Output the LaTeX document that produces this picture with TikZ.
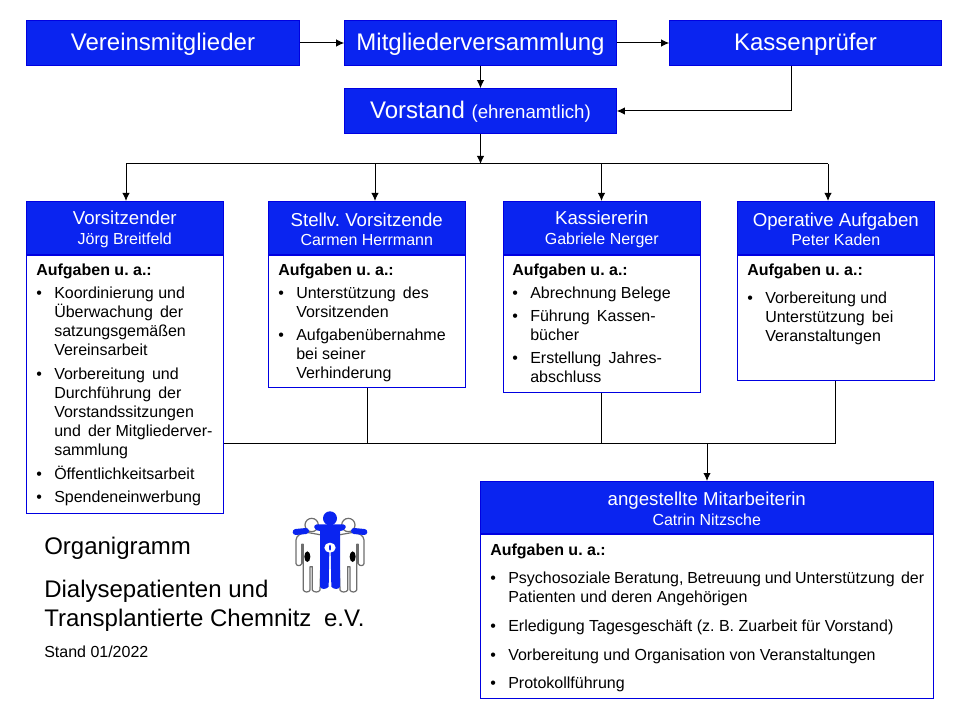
\documentclass[tikz,border=0pt]{standalone}
\usepackage{fontspec}
\setmainfont{Liberation Sans}
\usetikzlibrary{arrows.meta}
\newdimen\px \px=0.75pt
\definecolor{vereinblue}{RGB}{10,36,240}
\definecolor{rimblue}{RGB}{0,0,225}
\definecolor{logogray}{RGB}{110,110,110}
\newcommand{\fs}[1]{\fontsize{#1}{1.2\dimexpr#1pt\relax}\selectfont}
\newcommand{\hz}{\rule{0pt}{12.5pt}}
\newenvironment{aufgaben}{\fontsize{12}{14.25}\selectfont\begin{tabular}{@{}p{18\px}@{}l@{}}}{\end{tabular}}
\newcommand{\kopf}{\multicolumn{2}{@{}l@{}}{\textbf{Aufgaben u. a.:}}}
\frenchspacing
\begin{document}
\begin{tikzpicture}[x=0.75pt,y=-0.75pt,
  top node/.style={rectangle,draw=rimblue,fill=vereinblue,text=white,font=\fs{18},minimum width=272\px,minimum height=45\px,inner sep=0pt,text height=14pt,text depth=2pt},
  head node/.style={rectangle,draw=rimblue,fill=vereinblue,text=white,align=center,inner sep=0pt,anchor=north west,minimum width=197\px,minimum height=53\px},
  body node/.style={rectangle,draw=rimblue,fill=white,inner sep=0pt,anchor=north west,minimum width=197\px},
  text node/.style={inner sep=0pt,anchor=north west,align=left},
  link/.style={-{Latex[length=6pt,width=5.5pt]},black,line width=0.75pt},
  plain link/.style={black,line width=0.75pt}]
\useasboundingbox (0,0) rectangle (960,720);
\node [top node,minimum width=273\px](mitglieder) at (163,43) {Vereinsmitglieder};
\node [top node](versammlung) at (480.5,43) {Mitgliederversammlung};
\node [top node](pruefer) at (805.5,43) {Kassenprüfer};
\node [top node](vorstand) at (480.5,111) {Vorstand {\fs{14}(ehrenamtlich)}};
% Bodies
\node [body node,minimum height=258\px](body1) at (26,255) {};
\node [body node,minimum height=132\px](body2) at (268,255) {};
\node [body node,minimum height=137\px](body3) at (503,255) {};
\node [body node,minimum height=125\px](body4) at (737,255) {};
\node [body node,minimum width=453\px,minimum height=164\px](body5) at (480,534) {};
% Heads
\node [head node](head1) at (26,201) {\hz{\fs{14}Vorsitzender}\\[2.5pt]{\fs{12}Jörg Breitfeld}};
\node [head node](head2) at (268,201) {\hz{\fs{14}Stellv. Vorsitzende}\\[2.5pt]{\fs{12}Carmen Herrmann}};
\node [head node](head3) at (503,201) {\hz{\fs{14}Kassiererin}\\[2.5pt]{\fs{12}Gabriele Nerger}};
\node [head node](head4) at (737,201) {\hz{\fs{14}Operative Aufgaben}\\[2.5pt]{\fs{12}Peter Kaden}};
\node [head node,minimum width=453\px,minimum height=52\px](head5) at (480,481) {\hz{\fs{14}angestellte Mitarbeiterin}\\[2.5pt]{\fs{12}Catrin Nitzsche}};
% Texts
\node [text node](text1) at (36,262) {\begin{aufgaben}
\kopf\\[4\px]
• & Koordinierung und\\
 & Überwachung\hspace{2pt} der\\
 & satzungsgemäßen\\
 & Vereinsarbeit\\[5\px]
• & Vorbereitung\hspace{2pt} und\\
 & Durchführung\hspace{2pt} der\\
 & Vorstandssitzungen\\
 & und\hspace{2pt} der Mitgliederver-\\
 & sammlung\\[5\px]
• & Öffentlichkeitsarbeit\\[4\px]
• & Spendeneinwerbung
\end{aufgaben}};
\node [text node](text2) at (278,262) {\begin{aufgaben}
\kopf\\[4\px]
• & Unterstützung\hspace{2pt} des\\
 & Vorsitzenden\\[4\px]
• & Aufgabenübernahme\\
 & bei seiner\\
 & Verhinderung
\end{aufgaben}};
\node [text node](text3) at (512,262) {\begin{aufgaben}
\kopf\\[4\px]
• & Abrechnung Belege\\[4\px]
• & Führung\hspace{2pt} Kassen-\\
 & bücher\\[4\px]
• & Erstellung\hspace{2pt} Jahres-\\
 & abschluss
\end{aufgaben}};
\node [text node](text4) at (747,262) {\begin{aufgaben}
\kopf\\[9\px]
• & Vorbereitung und\\
 & Unterstützung\hspace{2pt} bei\\
 & Veranstaltungen
\end{aufgaben}};
\node [text node](text5) at (490,542) {\begin{aufgaben}
\kopf\\[9\px]
• & \makebox[416\px][s]{Psychosoziale Beratung, Betreuung und Unterstützung\hspace{2pt} der}\\
 & Patienten und deren Angehörigen\\[10\px]
• & Erledigung Tagesgeschäft (z. B. Zuarbeit für Vorstand)\\[10\px]
• & Vorbereitung und Organisation von Veranstaltungen\\[9\px]
• & Protokollführung
\end{aufgaben}};
% Title
\node [text node,font=\fs{18}](title1) at (44,537) {Organigramm};
\node [text node,font=\fs{18},align=left](title2) at (44,580) {Dialysepatienten und\\Transplantierte Chemnitz\hspace{4.5pt} e.V.};
\node [text node,font=\fs{12}](title3) at (44,646) {Stand 01/2022};
% Links
\coordinate (pruefer out) at (791,66);
\coordinate (bus top) at (480.5,164);
\coordinate (bus left) at (126,164);
\coordinate (bus right) at (828,164);
\coordinate (in2) at (375,201);
\coordinate (in2 top) at (375,164);
\coordinate (in3 top) at (601.5,164);
\coordinate (out1) at (224,443);
\coordinate (out2) at (367,388);
\coordinate (out3) at (601.5,393);
\coordinate (out4) at (835.5,381);
\coordinate (bus low) at (835.5,443);
\coordinate (in5) at (707,481);
\coordinate (in5 top) at (707,443);
\path [link]
    (mitglieder) edge (versammlung)
    (versammlung) edge (pruefer)
    (versammlung) edge (vorstand)
    (vorstand) edge (bus top)
    (bus left) edge (bus left|-head1.north)
    (in2 top) edge (in2)
    (in3 top) edge (in3 top|-head3.north)
    (bus right) edge (bus right|-head4.north)
    (in5 top) edge (in5)
         ;
\draw [link] (pruefer out) |- (vorstand.east);
\draw [plain link] (bus left) -- (bus right);
\draw [plain link] (out1) -- (bus low) -- (out4);
\draw [plain link] (out2) -- (out2|-bus low);
\draw [plain link] (out3) -- (out3|-bus low);
% Logo
\begin{scope}[shift={(330,505)},x=0.25pt,y=-0.25pt]
\foreach \sx in {1,-1}{
  \begin{scope}[xscale=\sx]
  \draw [logogray,fill=white,line width=1.2\px,line join=round]
    (-70,82) .. controls (-85,84) and (-101,90) .. (-102,105) -- (-102,176) .. controls (-100,184) and (-88,184) .. (-85,176)
    -- (-85,118) -- (-80,118) -- (-80,255) .. controls (-78,263) and (-62,263) .. (-60,255) -- (-60,185) -- (-53,185)
    -- (-53,255) .. controls (-50,263) and (-32,263) .. (-30,255) -- (-25,90) -- cycle;
  \draw [logogray,fill=white,line width=1.2\px] (-55,60) circle (20);
  \fill [black] (-68,155) ellipse (9 and 16);
  \draw [vereinblue,line width=4.5pt,line cap=round] (-103,81) -- (-72,78);
  \end{scope}
}
\fill [vereinblue] (0,40) circle (21);
\fill [vereinblue] (-40,58) -- (40,58) .. controls (52,60) and (50,76) .. (30,78) -- (30,245) .. controls (28,254) and (10,254) .. (4,245) -- (2,140) -- (-2,140) -- (-4,245) .. controls (-10,254) and (-28,254) .. (-30,245) -- (-30,78) .. controls (-50,76) and (-52,60) .. cycle;
\fill [white] (0,128) ellipse (17 and 15);
\fill [vereinblue] (0,128) ellipse (3 and 9);
\end{scope}
\end{tikzpicture}
\end{document}
